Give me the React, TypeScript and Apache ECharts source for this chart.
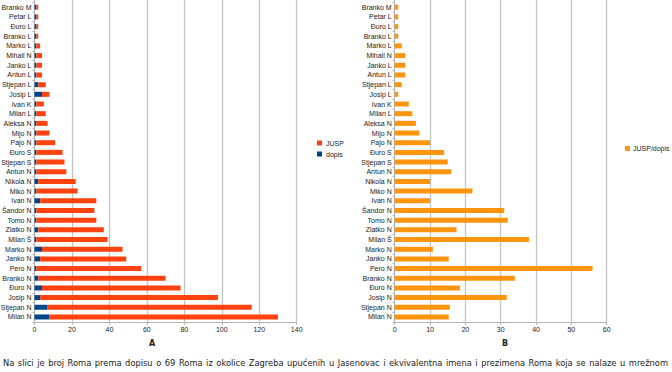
import React, { useEffect, useRef } from "react";
import * as echarts from "echarts";

// categories from bottom to top (the top one is cut off in the reference)
const names = [
  "Milan N", "Stjepan N", "Josip N", "Đuro N", "Branko N", "Pero N", "Janko N", "Marko N",
  "Milan Š", "Zlatko N", "Tomo N", "Šandor N", "Ivan N", "Miko N", "Nikola N", "Antun N",
  "Stjepan S", "Đuro S", "Pajo N", "Mijo N", "Aleksa N", "Milan L", "Ivan K", "Josip L",
  "Stjepan L", "Antun L", "Janko L", "Mihail N", "Marko L", "Branko L", "Đuro L", "Petar L",
  "Branko M", "",
];
const dopis = [
  8, 7, 3, 4, 2, 1, 3, 4, 1, 2, 1, 1, 3, 1, 2, 1,
  1, 1, 1, 1, 1, 1, 1, 4, 2, 1, 1, 1, 1, 1, 1, 1, 1, 1,
];
const jusp = [
  122, 109, 95, 74, 68, 56, 46, 43, 38, 35, 32, 31, 30, 22, 20, 16,
  15, 14, 10, 7, 6, 5, 4, 4, 4, 3, 3, 3, 2, 1, 1, 1, 1, 1,
];
const ratio = [
  15.3, 15.6, 31.7, 18.5, 34, 56, 15.3, 10.8, 38, 17.5, 32, 31, 10, 22, 10, 16,
  15, 14, 10, 7, 6, 5, 4, 1, 2, 3, 3, 3, 2, 1, 1, 1, 1, 1,
];
const axisA = { min: 0, max: 140, interval: 20 };
const axisB = { min: 0, max: 60, interval: 10 };
const captionText =
  "Na slici je broj Roma prema dopisu o 69 Roma iz okolice Zagreba upućenih u Jasenovac i ekvivalentna imena i prezimena Roma koja se nalaze u mrežnom";

const FONT = "Liberation Sans";
const gridColor = "#c4c4c4";
const axisColor = "#b3b3b3";

function valueAxis(idx: number, cfg: { min: number; max: number; interval: number }) {
  return {
    type: "value",
    gridIndex: idx,
    min: cfg.min,
    max: cfg.max,
    interval: cfg.interval,
    axisLine: { show: true, lineStyle: { color: axisColor, width: 1 } },
    axisTick: { show: true, length: 3, lineStyle: { color: axisColor } },
    axisLabel: { fontSize: 7, color: "#222", fontFamily: FONT, margin: 4 },
    splitLine: { show: true, lineStyle: { color: gridColor, width: 1.3 } },
  };
}
function catAxis(idx: number) {
  return {
    type: "category",
    gridIndex: idx,
    data: names,
    axisLine: { show: true, lineStyle: { color: axisColor, width: 1 } },
    axisTick: { show: true, length: 2, lineStyle: { color: axisColor } },
    axisLabel: { fontSize: 7, color: "#222", fontFamily: FONT, margin: 3, interval: 0 },
    splitLine: { show: false },
  };
}

export default function App() {
  const ref = useRef<HTMLDivElement>(null);
  useEffect(() => {
    if (!ref.current) return;
    const chart = echarts.init(ref.current, undefined, { renderer: "svg" });
    const bandH = 9.68;
    const axisY = 321.8;
    const top = axisY - names.length * bandH;
    const bottom = 372 - axisY;
    chart.setOption({
      animation: false,
      backgroundColor: "#ffffff",
      textStyle: { fontFamily: FONT },
      grid: [
        { left: 34.5, right: 672 - 296.7, top, bottom, outerBoundsMode: "none", containLabel: false },
        { left: 394.7, right: 672 - 606.7, top, bottom, outerBoundsMode: "none", containLabel: false },
      ],
      xAxis: [valueAxis(0, axisA), valueAxis(1, axisB)],
      yAxis: [catAxis(0), catAxis(1)],
      legend: [
        {
          data: ["JUSP", "dopis"],
          orient: "vertical",
          left: 317,
          top: 139.5,
          itemWidth: 5,
          itemHeight: 5,
          itemGap: 4,
          padding: 0,
          icon: "rect",
          textStyle: { fontSize: 7, color: "#222", fontFamily: FONT, padding: [0, 0, 0, -1] },
        },
        {
          data: ["JUSP/dopis"],
          orient: "vertical",
          left: 625,
          top: 145,
          itemWidth: 5,
          itemHeight: 5,
          padding: 0,
          icon: "rect",
          textStyle: { fontSize: 7, color: "#222", fontFamily: FONT, padding: [0, 0, 0, -2] },
        },
      ],
      series: [
        {
          name: "dopis",
          type: "bar",
          stack: "a",
          xAxisIndex: 0,
          yAxisIndex: 0,
          data: dopis,
          barWidth: 5,
          itemStyle: { color: "#004586" },
        },
        {
          name: "JUSP",
          type: "bar",
          stack: "a",
          xAxisIndex: 0,
          yAxisIndex: 0,
          data: jusp,
          barWidth: 5,
          itemStyle: { color: "#ff420e" },
        },
        {
          name: "JUSP/dopis",
          type: "bar",
          xAxisIndex: 1,
          yAxisIndex: 1,
          data: ratio,
          barWidth: 5,
          itemStyle: { color: "#ff950e" },
        },
      ],
      graphic: [
        {
          type: "text",
          left: 149,
          top: 339,
          style: { text: "A", fontSize: 8, fontWeight: "bold", fill: "#222", fontFamily: "DejaVu Sans" },
        },
        {
          type: "text",
          left: 502,
          top: 339,
          style: { text: "B", fontSize: 8, fontWeight: "bold", fill: "#222", fontFamily: "DejaVu Sans" },
        },
      ],
    });
    return () => chart.dispose();
  }, []);
  return (
    <div style={{ position: "fixed", left: 0, top: 0, width: 672, height: 372, overflow: "hidden", background: "#fff" }}>
      <div ref={ref} style={{ position: "absolute", left: 0, top: 0, width: 672, height: 372 }} />
      <div
        style={{
          position: "absolute",
          left: 3,
          top: 358,
          width: 665,
          fontFamily: "DejaVu Sans",
          fontSize: 8.3,
          lineHeight: "11px",
          color: "#222",
          textAlign: "justify",
          textAlignLast: "justify",
          whiteSpace: "nowrap",
        }}
      >
        {captionText}
      </div>
    </div>
  );
}
